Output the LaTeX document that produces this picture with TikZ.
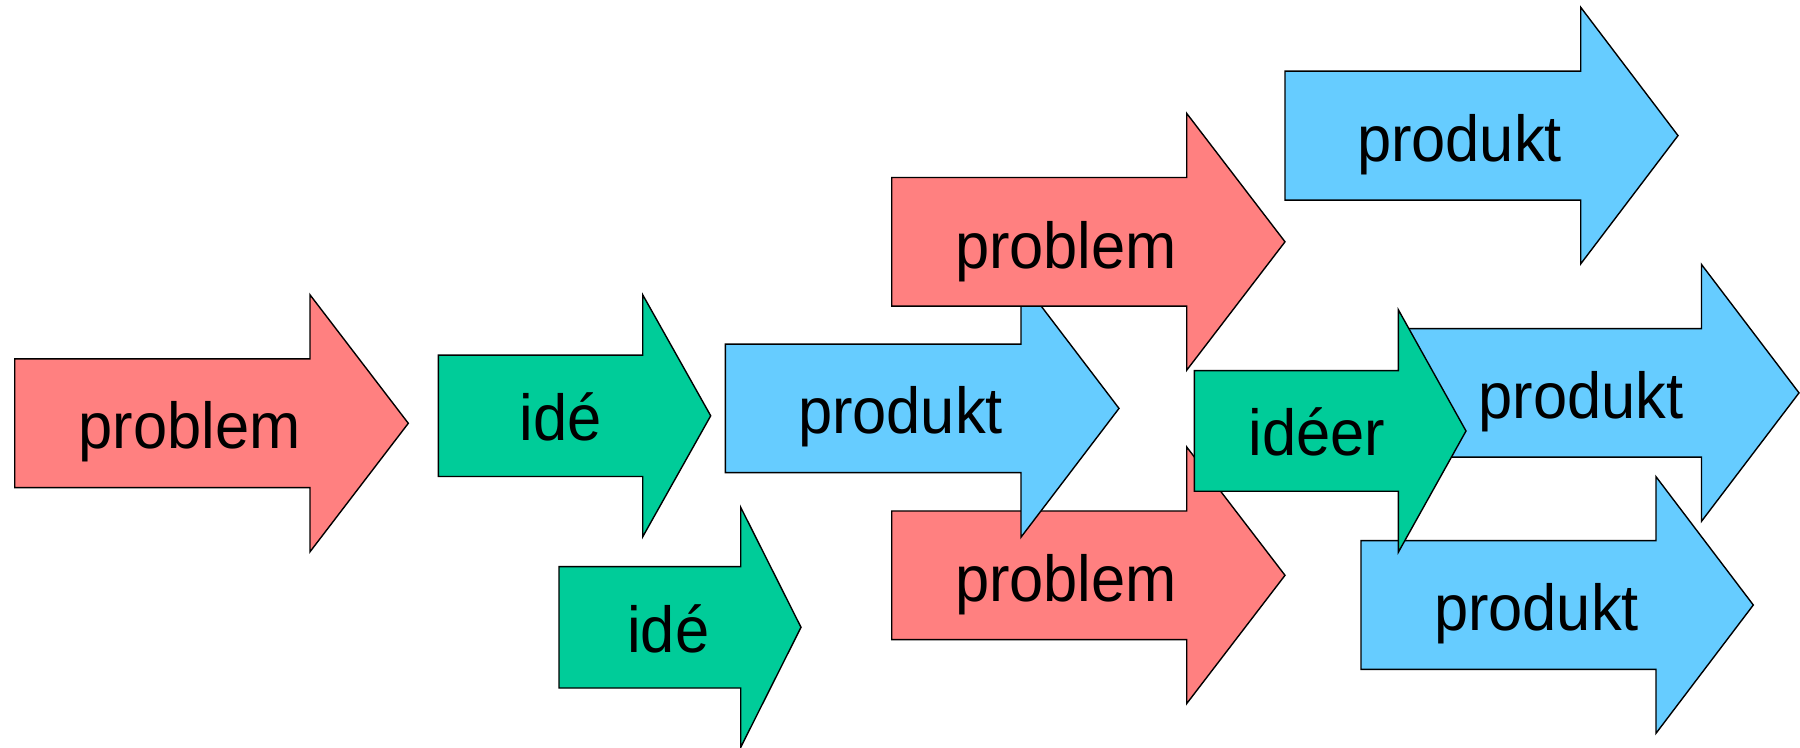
\documentclass[tikz,border=0pt]{standalone}
\usepackage{fontspec}
\setmainfont{Liberation Sans}[FakeStretch=0.945]
\definecolor{pred}{HTML}{FF8080}
\definecolor{pgreen}{HTML}{00CC99}
\definecolor{pblue}{HTML}{66CCFF}
% #1 name, #2 fill, #3 left, #4 head base, #5 tip x, #6 centre y, #7 body half height, #8 head half height
\newcommand{\blockarrow}[8]{%
  \filldraw[arrowshape, fill=#2]
    (#3,#6-#7) -- (#4,#6-#7) -- (#4,#6-#8) -- (#5,#6) -- (#4,#6+#8)
    -- (#4,#6+#7) -- (#3,#6+#7) -- cycle;
  \coordinate (#1) at (#5,#6);}
\tikzset{
  arrowshape/.style={draw=black, line width=0.7pt, line join=miter},
  lbl/.style={anchor=base, inner sep=0pt, font=\fontsize{32.5}{38}\selectfont, text=black},
}
\begin{document}
\begin{tikzpicture}[x=0.5pt, y=-0.5pt]
\useasboundingbox (0,0) rectangle (1800,748);
% left red
\blockarrow{redL}{pred}{14.7}{310}{408.3}{423.3}{64.4}{128.5}
\node[lbl] (tredL) at (189.5,449) {problem};
% green upper
\blockarrow{greenU}{pgreen}{438.3}{642.7}{710.7}{415.8}{60.7}{121}
\node[lbl] (tgreenU) at (560.5,441) {idé};
% green lower
\blockarrow{greenL}{pgreen}{559}{740.7}{801}{627.3}{60.7}{120}
\node[lbl] (tgreenL) at (668.3,652.3) {idé};
% red lower
\blockarrow{redLo}{pred}{891.7}{1186.7}{1285}{575.3}{64.3}{128.3}
\node[lbl] (tredLo) at (1066,601.2) {problem};
% blue centre
\blockarrow{blueC}{pblue}{725.3}{1021}{1119}{408.4}{64.2}{128.8}
\node[lbl] (tblueC) at (900.5,433.6) {produkt};
% red upper
\blockarrow{redU}{pred}{891.7}{1186.7}{1285}{241.8}{64.3}{128.4}
\node[lbl] (tredU) at (1066,268.4) {problem};
% blue top right
\blockarrow{blueTR}{pblue}{1285}{1580.7}{1678}{135.6}{64.5}{128.3}
\node[lbl] (tblueTR) at (1459.5,161.7) {produkt};
% blue middle right
\blockarrow{blueMR}{pblue}{1406}{1701.5}{1799}{392.9}{64.3}{128.4}
\node[lbl] (tblueMR) at (1581,418.5) {produkt};
% blue lower right
\blockarrow{blueLR}{pblue}{1361}{1656}{1753.3}{605}{64.3}{128.3}
\node[lbl] (tblueLR) at (1536.5,630) {produkt};
% green ideer
\blockarrow{greenI}{pgreen}{1194.3}{1398.3}{1466}{431}{60.3}{121.3}
\node[lbl] (tgreenI) at (1317,455.7) {idéer};
\end{tikzpicture}
\end{document}
